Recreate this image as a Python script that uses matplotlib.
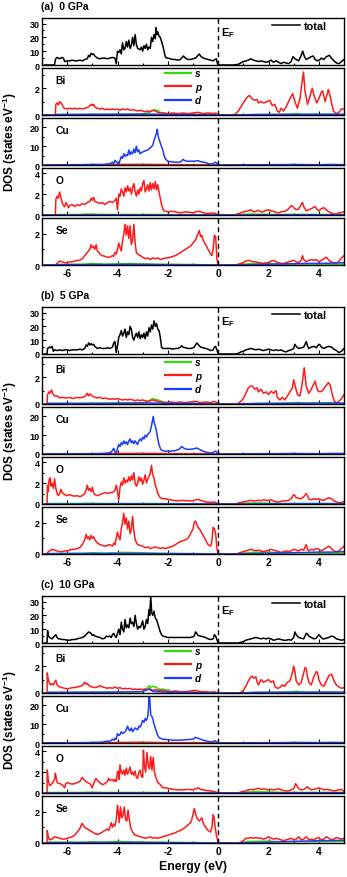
import numpy as np
import matplotlib
matplotlib.use("Agg")
import matplotlib.pyplot as plt

plt.rcParams['font.family'] = ['Liberation Sans', 'DejaVu Sans']
plt.rcParams['font.weight'] = 'bold'
plt.rcParams['mathtext.fontset'] = 'custom'
plt.rcParams['mathtext.rm'] = 'Liberation Sans:bold'
plt.rcParams['mathtext.bf'] = 'Liberation Sans:bold'
plt.rcParams['mathtext.it'] = 'Liberation Sans:bold:italic'
plt.rcParams['mathtext.default'] = 'bf'
plt.rcParams['axes.unicode_minus'] = False

# ---------------- data: (energy eV, DOS) ----------------
# ===== (a) 0 GPa =====
TOTAL_0 = [(-6.9,0),(-6.5,0),(-6.47,4),(-6.4,5.5),(-6.3,4.5),(-6.2,5.5),(-6.15,5),(-6.1,2.5),(-6.0,3),(-5.9,3),(-5.8,3.5),(-5.7,3),(-5.6,3),(-5.5,3.5),(-5.4,3),(-5.3,4),(-5.2,4.5),(-5.15,7),(-5.1,6),(-5.05,8.5),(-5.0,7.5),(-4.95,8),(-4.9,6.5),(-4.8,5),(-4.7,4.5),(-4.6,5),(-4.5,5),(-4.4,4.5),(-4.3,5),(-4.2,5.5),(-4.1,5),(-4.05,1),(-4.0,10),(-3.95,9),(-3.9,11),(-3.85,8),(-3.8,16),(-3.75,11),(-3.7,12),(-3.65,17),(-3.6,13),(-3.55,18),(-3.5,12),(-3.45,14),(-3.4,20),(-3.35,14),(-3.3,22),(-3.25,15),(-3.2,12),(-3.1,11),(-3.05,13),(-3.0,10),(-2.95,14),(-2.9,12),(-2.85,15),(-2.8,11),(-2.75,13),(-2.7,12),(-2.65,20),(-2.6,17),(-2.55,22),(-2.5,19),(-2.47,27),(-2.44,22),(-2.4,24),(-2.35,21),(-2.3,20),(-2.25,17),(-2.2,14),(-2.15,10),(-2.1,6),(-2.05,5),(-2.0,5),(-1.9,4.5),(-1.8,4),(-1.7,4),(-1.6,3.5),(-1.5,4),(-1.45,5),(-1.38,6.5),(-1.3,5),(-1.2,4),(-1.1,4),(-1.0,4.5),(-0.9,5),(-0.8,7),(-0.75,8),(-0.7,6.5),(-0.6,5),(-0.5,4.5),(-0.4,4),(-0.3,3.5),(-0.2,3),(-0.12,4),(-0.07,4.5),(-0.03,1),(0.0,0),(0.6,0),(0.8,0.5),(0.9,1.5),(1.0,2.5),(1.1,3),(1.2,3.5),(1.3,4.5),(1.4,3.5),(1.5,3),(1.6,2.5),(1.7,3),(1.8,2.5),(1.9,2),(2.0,2.5),(2.1,3.5),(2.2,2),(2.3,3),(2.4,2),(2.5,1),(2.6,2),(2.7,1.5),(2.8,1),(2.9,2.5),(2.97,6),(3.05,4.5),(3.1,4),(3.2,3),(3.3,7),(3.36,10),(3.43,6),(3.5,4),(3.6,5),(3.7,6),(3.78,6.5),(3.85,4),(3.95,3),(4.05,4),(4.1,5),(4.2,4),(4.3,6),(4.42,7),(4.5,5),(4.6,3),(4.7,1.5),(4.8,1),(4.9,2.5),(5.0,4)]
BI_P_0 = [(-6.9,0),(-6.47,0),(-6.45,0.8),(-6.4,0.9),(-6.35,0.75),(-6.3,1.0),(-6.25,0.9),(-6.2,0.8),(-6.15,0.55),(-6.1,0.5),(-6.0,0.45),(-5.9,0.5),(-5.8,0.45),(-5.7,0.5),(-5.6,0.45),(-5.5,0.5),(-5.4,0.45),(-5.3,0.5),(-5.2,0.55),(-5.1,0.7),(-5.05,0.8),(-5.0,0.7),(-4.95,0.8),(-4.9,0.6),(-4.8,0.5),(-4.7,0.45),(-4.6,0.5),(-4.5,0.4),(-4.4,0.45),(-4.3,0.4),(-4.2,0.45),(-4.1,0.4),(-4.0,0.45),(-3.9,0.35),(-3.8,0.45),(-3.7,0.4),(-3.6,0.45),(-3.5,0.35),(-3.4,0.4),(-3.3,0.35),(-3.2,0.3),(-3.1,0.35),(-3.0,0.3),(-2.9,0.25),(-2.8,0.3),(-2.7,0.25),(-2.6,0.35),(-2.5,0.3),(-2.4,0.2),(-2.3,0.15),(-2.2,0.15),(-2.0,0.1),(-1.8,0.15),(-1.6,0.1),(-1.4,0.15),(-1.2,0.1),(-1.0,0.15),(-0.8,0.2),(-0.6,0.1),(-0.4,0.15),(-0.2,0.1),(-0.1,0.15),(0.0,0),(0.6,0),(0.7,0.1),(0.8,0.3),(0.9,0.6),(1.0,0.9),(1.1,1.2),(1.2,1.4),(1.25,1.45),(1.35,1.2),(1.45,1.1),(1.55,1.15),(1.6,0.9),(1.7,1.0),(1.8,0.9),(1.9,0.95),(2.05,1.1),(2.15,0.7),(2.25,0.8),(2.35,0.3),(2.43,0.2),(2.5,0.5),(2.6,0.3),(2.7,0.6),(2.8,1.0),(2.88,1.3),(2.96,1.6),(3.05,1.0),(3.15,0.5),(3.25,1.2),(3.33,2.4),(3.39,3.2),(3.45,1.8),(3.55,0.8),(3.65,1.4),(3.74,2.0),(3.8,1.5),(3.92,0.9),(4.02,1.3),(4.1,1.7),(4.15,1.8),(4.25,1.0),(4.32,1.5),(4.38,1.9),(4.45,1.4),(4.52,0.8),(4.58,0.3),(4.7,0.1),(4.8,0.2),(4.9,0.45),(5.0,0.45)]
BI_S_0 = [(-6.9,0),(-6.47,0),(-6.4,0.03),(-5.5,0.03),(-5.0,0.05),(-4.5,0.04),(-4.0,0.06),(-3.5,0.05),(-3.0,0.1),(-2.8,0.15),(-2.7,0.25),(-2.6,0.35),(-2.5,0.4),(-2.45,0.3),(-2.4,0.35),(-2.3,0.2),(-2.2,0.15),(-2.0,0.1),(-1.5,0.05),(-1.0,0.05),(-0.5,0.04),(0.0,0),(0.8,0),(1.5,0.03),(2.5,0.05),(3.0,0.08),(3.1,0.12),(3.3,0.05),(4.0,0.04),(5.0,0.03)]
BI_D_0 = [(-6.9,0),(-6.47,0),(-6.4,0.04),(-5.0,0.05),(-4.0,0.05),(-3.0,0.07),(-2.5,0.06),(-2.0,0.04),(-1.0,0.03),(0.0,0),(0.8,0),(1.5,0.04),(2.5,0.04),(3.5,0.05),(4.5,0.06),(5.0,0.05)]
CU_D_0 = [(-6.9,0),(-6.47,0),(-6.4,0.1),(-5.5,0.15),(-5.0,0.3),(-4.6,0.3),(-4.4,0.5),(-4.25,0.9),(-4.2,1.5),(-4.15,0.5),(-4.1,2.5),(-4.0,1.0),(-3.95,0.5),(-3.9,2.5),(-3.85,4.5),(-3.8,3.5),(-3.75,6),(-3.7,4.5),(-3.65,5.5),(-3.6,5),(-3.55,8),(-3.5,5.5),(-3.45,7),(-3.4,6),(-3.35,8.5),(-3.3,6.5),(-3.25,10),(-3.2,7),(-3.15,8),(-3.1,6),(-3.0,7),(-2.9,7.5),(-2.8,8),(-2.7,9),(-2.6,10.5),(-2.55,13),(-2.5,15),(-2.45,17),(-2.42,19),(-2.38,15),(-2.33,13),(-2.28,11),(-2.2,8),(-2.15,5),(-2.08,3),(-2.0,2),(-1.9,1.8),(-1.7,1.5),(-1.5,1.5),(-1.4,3),(-1.35,2.5),(-1.25,2),(-1.1,2),(-0.95,2),(-0.8,2.3),(-0.7,1.8),(-0.6,1.5),(-0.5,1.3),(-0.4,0.8),(-0.3,0.5),(-0.2,0.6),(-0.12,1.5),(-0.07,1.2),(0.0,0),(0.7,0),(0.8,0.1),(1.5,0.15),(2.5,0.2),(3.0,0.3),(3.5,0.2),(4.0,0.15),(4.5,0.3),(5.0,0.2)]
CU_P_0 = [(-6.9,0),(-6.47,0),(-6.4,0.05),(-4.5,0.1),(-4.0,0.3),(-3.0,0.35),(-2.5,0.3),(-2.0,0.2),(-1.0,0.15),(-0.3,0.1),(0.0,0),(0.8,0),(5.0,0.05)]
CU_S_0 = [(-6.9,0),(-6.47,0),(-4.0,0.05),(-2.5,0.1),(0.0,0),(0.8,0),(3.0,0.1),(4.5,0.15),(5.0,0.1)]
O_P_0 = [(-6.9,0),(-6.47,0),(-6.45,1.5),(-6.4,1.8),(-6.35,1.6),(-6.3,2.2),(-6.25,1.7),(-6.2,1.2),(-6.15,0.9),(-6.1,0.8),(-6.05,1.2),(-6.0,1.0),(-5.95,0.7),(-5.9,0.9),(-5.8,1.0),(-5.7,0.8),(-5.6,1.0),(-5.5,0.9),(-5.4,1.1),(-5.3,1.0),(-5.2,1.2),(-5.1,1.3),(-5.05,1.6),(-5.0,1.4),(-4.95,1.7),(-4.9,1.3),(-4.8,1.2),(-4.7,1.1),(-4.6,1.2),(-4.5,1.0),(-4.4,1.2),(-4.3,1.3),(-4.2,1.2),(-4.1,1.4),(-4.05,1.6),(-4.0,0.5),(-3.95,2.0),(-3.9,1.8),(-3.85,2.5),(-3.8,2.2),(-3.75,1.8),(-3.7,2.6),(-3.65,2.2),(-3.6,2.8),(-3.55,2.3),(-3.5,2.6),(-3.45,2.0),(-3.4,2.6),(-3.35,3.0),(-3.3,2.2),(-3.25,1.8),(-3.2,2.4),(-3.15,2.0),(-3.1,2.6),(-3.05,2.3),(-3.0,3.0),(-2.95,3.3),(-2.9,2.2),(-2.85,2.5),(-2.8,2.9),(-2.75,2.3),(-2.7,3.1),(-2.65,2.4),(-2.6,3.0),(-2.55,2.5),(-2.5,3.2),(-2.45,2.4),(-2.4,2.9),(-2.35,2.2),(-2.3,1.6),(-2.25,1.0),(-2.2,0.6),(-2.15,0.4),(-2.0,0.3),(-1.9,0.35),(-1.8,0.35),(-1.7,0.3),(-1.5,0.2),(-1.3,0.3),(-1.1,0.25),(-1.0,0.2),(-0.9,0.3),(-0.8,0.35),(-0.7,0.3),(-0.5,0.15),(-0.3,0.15),(-0.2,0.2),(-0.1,0.15),(0.0,0),(0.7,0),(0.75,0.1),(0.9,0.2),(1.0,0.3),(1.1,0.35),(1.2,0.4),(1.3,0.5),(1.4,0.3),(1.5,0.35),(1.6,0.45),(1.7,0.3),(1.8,0.3),(1.9,0.45),(2.0,0.5),(2.1,0.4),(2.2,0.35),(2.3,0.25),(2.4,0.2),(2.5,0.3),(2.6,0.35),(2.7,0.4),(2.8,0.6),(2.9,0.9),(2.95,0.85),(3.0,0.7),(3.1,0.5),(3.2,0.6),(3.3,1.0),(3.35,1.2),(3.4,0.8),(3.5,0.4),(3.6,0.5),(3.7,0.6),(3.8,0.75),(3.85,0.8),(3.95,0.5),(4.0,0.4),(4.1,0.6),(4.2,0.7),(4.3,0.5),(4.4,0.3),(4.5,0.2),(4.6,0.1),(4.7,0.1),(4.8,0.2),(4.9,0.25),(5.0,0.3)]
O_S_0 = [(-6.9,0),(-6.47,0),(-6.4,0.05),(-5.5,0.05),(-5.2,0.1),(-4.5,0.05),(-3.5,0.05),(-2.5,0.05),(0.0,0),(0.8,0),(1.2,0.1),(1.5,0.08),(2.5,0.05),(3.5,0.05),(5.0,0.05)]
O_D_0 = [(-6.9,0),(-6.47,0),(-4.0,0.02),(0.0,0),(0.8,0),(3.0,0.03),(5.0,0.03)]
SE_P_0 = [(-6.9,0),(-6.47,0),(-6.4,0.1),(-6.3,0.25),(-6.2,0.2),(-6.1,0.15),(-6.0,0.15),(-5.9,0.2),(-5.8,0.2),(-5.7,0.25),(-5.6,0.3),(-5.5,0.3),(-5.4,0.4),(-5.3,0.6),(-5.2,0.8),(-5.1,1.0),(-5.05,1.3),(-5.0,1.1),(-4.95,1.2),(-4.9,1.0),(-4.85,1.3),(-4.8,0.9),(-4.7,0.7),(-4.6,0.6),(-4.5,0.55),(-4.4,0.5),(-4.3,0.5),(-4.2,0.6),(-4.15,0.55),(-4.1,0.8),(-4.05,0.7),(-4.0,1.0),(-3.95,1.4),(-3.9,1.1),(-3.85,0.9),(-3.8,1.5),(-3.75,2.0),(-3.7,2.6),(-3.65,1.9),(-3.6,2.5),(-3.55,1.7),(-3.5,2.5),(-3.45,1.3),(-3.4,1.6),(-3.35,2.6),(-3.3,1.4),(-3.25,0.8),(-3.2,0.7),(-3.1,0.6),(-3.0,0.5),(-2.9,0.4),(-2.8,0.45),(-2.7,0.35),(-2.6,0.45),(-2.5,0.4),(-2.4,0.45),(-2.3,0.35),(-2.2,0.4),(-2.1,0.45),(-2.0,0.45),(-1.9,0.5),(-1.8,0.55),(-1.7,0.6),(-1.6,0.7),(-1.5,0.8),(-1.4,0.9),(-1.3,1.0),(-1.2,1.1),(-1.1,1.2),(-1.0,1.4),(-0.9,1.6),(-0.85,1.8),(-0.8,2.0),(-0.75,2.2),(-0.7,1.8),(-0.65,1.9),(-0.6,1.6),(-0.5,1.3),(-0.4,1.0),(-0.3,0.7),(-0.25,0.6),(-0.2,1.0),(-0.15,1.9),(-0.1,1.8),(-0.05,0.4),(0.0,0),(0.7,0),(0.8,0.05),(0.9,0.1),(1.0,0.15),(1.1,0.25),(1.2,0.3),(1.3,0.25),(1.4,0.2),(1.5,0.2),(1.6,0.15),(1.8,0.1),(1.9,0.15),(2.0,0.15),(2.1,0.25),(2.2,0.3),(2.3,0.2),(2.4,0.15),(2.5,0.1),(2.6,0.1),(2.7,0.15),(2.8,0.2),(2.9,0.25),(3.0,0.3),(3.1,0.2),(3.2,0.15),(3.3,0.3),(3.35,0.6),(3.4,0.35),(3.5,0.2),(3.6,0.3),(3.7,0.35),(3.8,0.3),(3.9,0.35),(4.0,0.2),(4.1,0.3),(4.2,0.4),(4.3,0.5),(4.4,0.3),(4.5,0.2),(4.6,0.15),(4.7,0.1),(4.8,0.25),(4.9,0.45),(5.0,0.6)]
SE_S_0 = [(-6.9,0),(-6.47,0),(-6.4,0.03),(-5.3,0.05),(-5.0,0.1),(-4.5,0.05),(-3.8,0.08),(-3.5,0.1),(-3.2,0.08),(-2.5,0.05),(-1.0,0.03),(0.0,0),(0.8,0),(1.2,0.08),(2.0,0.1),(2.5,0.05),(3.0,0.08),(4.0,0.05),(5.0,0.05)]
SE_D_0 = [(-6.9,0),(-6.47,0),(-6.4,0.02),(-3.5,0.04),(0.0,0),(0.8,0),(2.0,0.05),(3.0,0.08),(3.5,0.1),(4.0,0.1),(4.5,0.12),(5.0,0.15)]

# ===== (b) 5 GPa =====
TOTAL_5 = [(-6.9,0),(-6.8,0),(-6.78,4),(-6.7,5),(-6.65,4.5),(-6.6,5.5),(-6.55,2),(-6.5,3),(-6.4,2.5),(-6.3,3),(-6.2,2.5),(-6.1,3),(-6.0,3),(-5.9,2.5),(-5.8,3),(-5.7,3),(-5.6,3),(-5.5,3.5),(-5.4,3),(-5.3,4),(-5.25,6.5),(-5.2,5.5),(-5.15,8),(-5.1,6.5),(-5.05,7.5),(-5.0,6.5),(-4.95,7),(-4.9,5.5),(-4.8,4),(-4.7,4.5),(-4.6,4),(-4.5,4),(-4.4,4.5),(-4.3,4),(-4.2,5),(-4.15,8),(-4.1,9),(-4.05,1),(-4.0,6),(-3.95,12),(-3.9,14),(-3.85,17),(-3.8,13),(-3.75,15),(-3.7,18),(-3.65,12),(-3.6,16),(-3.55,14),(-3.5,20),(-3.45,18),(-3.4,12),(-3.35,10),(-3.3,13),(-3.25,15),(-3.2,12),(-3.15,16),(-3.1,11),(-3.05,14),(-3.0,12),(-2.95,15),(-2.9,11),(-2.85,16),(-2.8,13),(-2.75,19),(-2.7,16),(-2.65,21),(-2.6,18),(-2.55,24),(-2.5,20),(-2.45,22),(-2.4,18),(-2.35,17),(-2.3,12),(-2.25,5),(-2.2,4),(-2.1,4),(-2.0,4),(-1.9,4),(-1.8,3.5),(-1.7,4),(-1.6,4),(-1.5,5),(-1.45,6),(-1.4,5),(-1.3,4.5),(-1.2,4),(-1.1,4),(-1.0,4.5),(-0.95,5),(-0.9,6.5),(-0.85,8),(-0.8,7),(-0.75,6),(-0.7,5),(-0.6,4.5),(-0.5,4),(-0.4,3.5),(-0.3,2.5),(-0.2,3),(-0.15,5),(-0.1,5.5),(-0.05,3),(0.0,0),(0.7,0),(0.8,0.5),(0.9,1.5),(1.0,2),(1.1,3),(1.2,3.5),(1.3,4),(1.4,3.5),(1.5,3),(1.6,3.5),(1.7,3),(1.8,2.5),(1.9,3),(2.0,3.5),(2.1,3),(2.2,2.5),(2.3,3),(2.4,2.5),(2.5,3),(2.6,2),(2.7,1.5),(2.8,2.5),(2.9,3),(3.0,4),(3.05,7),(3.1,5.5),(3.2,4),(3.3,4.5),(3.4,5),(3.45,7),(3.5,9),(3.55,6),(3.6,4),(3.7,5),(3.8,5.5),(3.9,4.5),(4.0,7),(4.05,6.5),(4.1,5),(4.2,4),(4.3,5),(4.4,5.5),(4.5,5),(4.6,3.5),(4.7,2.5),(4.8,1),(4.9,2),(5.0,4)]
BI_P_5 = [(-6.9,0),(-6.8,0),(-6.78,0.7),(-6.72,0.9),(-6.68,0.8),(-6.62,1.05),(-6.58,0.8),(-6.5,0.6),(-6.4,0.6),(-6.3,0.45),(-6.2,0.5),(-6.1,0.45),(-6.0,0.45),(-5.9,0.5),(-5.8,0.4),(-5.7,0.45),(-5.6,0.5),(-5.5,0.45),(-5.4,0.5),(-5.3,0.55),(-5.2,0.8),(-5.15,0.6),(-5.1,0.75),(-5.0,0.6),(-4.9,0.5),(-4.8,0.45),(-4.7,0.5),(-4.6,0.4),(-4.5,0.45),(-4.4,0.4),(-4.3,0.35),(-4.2,0.4),(-4.1,0.35),(-4.0,0.4),(-3.9,0.35),(-3.8,0.3),(-3.7,0.35),(-3.6,0.3),(-3.5,0.35),(-3.4,0.3),(-3.3,0.25),(-3.2,0.3),(-3.1,0.25),(-3.0,0.3),(-2.9,0.25),(-2.8,0.2),(-2.7,0.25),(-2.6,0.3),(-2.5,0.25),(-2.4,0.2),(-2.3,0.15),(-2.1,0.1),(-1.9,0.15),(-1.7,0.1),(-1.5,0.15),(-1.3,0.1),(-1.1,0.15),(-0.9,0.2),(-0.7,0.1),(-0.5,0.15),(-0.3,0.1),(-0.15,0.2),(-0.05,0.1),(0.0,0),(0.7,0),(0.8,0.05),(0.9,0.2),(1.0,0.4),(1.1,0.8),(1.2,1.2),(1.3,1.35),(1.38,1.3),(1.45,1.1),(1.55,1.2),(1.6,0.9),(1.7,1.1),(1.8,0.8),(1.9,0.9),(2.0,0.7),(2.1,0.95),(2.2,0.8),(2.3,1.0),(2.35,0.5),(2.45,0.3),(2.55,0.5),(2.65,0.3),(2.75,0.6),(2.85,0.9),(2.95,1.2),(3.0,1.8),(3.08,1.2),(3.15,0.7),(3.25,0.6),(3.33,1.4),(3.42,2.7),(3.5,1.3),(3.6,0.8),(3.7,1.1),(3.8,1.5),(3.85,1.7),(3.95,1.0),(4.05,0.9),(4.15,1.0),(4.3,1.4),(4.38,1.6),(4.45,1.4),(4.55,0.6),(4.62,0.2),(4.7,0.1),(4.8,0.2),(4.9,0.4),(5.0,0.7)]
BI_S_5 = [(-6.9,0),(-6.8,0),(-6.75,0.03),(-5.5,0.03),(-5.0,0.05),(-4.5,0.04),(-4.0,0.06),(-3.5,0.06),(-3.0,0.1),(-2.8,0.15),(-2.7,0.3),(-2.6,0.4),(-2.5,0.35),(-2.4,0.3),(-2.3,0.25),(-2.2,0.15),(-2.0,0.1),(-1.5,0.05),(-1.0,0.05),(-0.5,0.04),(0.0,0),(0.8,0),(1.5,0.03),(2.5,0.05),(3.0,0.08),(3.2,0.12),(3.4,0.05),(4.0,0.04),(5.0,0.03)]
BI_D_5 = [(-6.9,0),(-6.8,0),(-6.75,0.05),(-5.0,0.05),(-4.0,0.06),(-3.0,0.08),(-2.5,0.07),(-2.0,0.05),(-1.0,0.03),(0.0,0),(0.8,0),(1.5,0.04),(2.5,0.05),(3.5,0.06),(4.5,0.08),(5.0,0.06)]
CU_D_5 = [(-6.9,0),(-6.8,0),(-6.75,0.1),(-5.5,0.15),(-5.0,0.2),(-4.6,0.3),(-4.4,0.5),(-4.25,1.0),(-4.15,3),(-4.1,1),(-4.05,0.5),(-4.0,3),(-3.95,5),(-3.9,4),(-3.85,6),(-3.8,5),(-3.75,7),(-3.7,5.5),(-3.65,6.5),(-3.6,5),(-3.55,7),(-3.5,8),(-3.45,6),(-3.4,7),(-3.35,5.5),(-3.3,7),(-3.25,6),(-3.2,5),(-3.15,7),(-3.1,8),(-3.05,7),(-3.0,9),(-2.95,8),(-2.9,10),(-2.85,9),(-2.8,10.5),(-2.75,11),(-2.7,12),(-2.65,15),(-2.62,17),(-2.58,20),(-2.55,17),(-2.5,15),(-2.45,12),(-2.4,8),(-2.35,5),(-2.3,3),(-2.25,2),(-2.1,1.5),(-1.9,1.5),(-1.7,1.8),(-1.55,2.5),(-1.45,4),(-1.35,3),(-1.25,2.5),(-1.1,2.5),(-0.95,2.8),(-0.85,3.2),(-0.75,2.5),(-0.6,1.5),(-0.5,1.0),(-0.4,0.8),(-0.3,0.5),(-0.2,0.8),(-0.12,1.5),(-0.07,1.2),(0.0,0),(0.7,0),(0.8,0.1),(1.5,0.15),(2.5,0.2),(3.0,0.3),(3.5,0.2),(4.0,0.15),(4.5,0.3),(5.0,0.3)]
CU_P_5 = [(-6.9,0),(-6.8,0),(-6.75,0.05),(-4.5,0.1),(-4.0,0.3),(-3.0,0.35),(-2.5,0.3),(-2.0,0.2),(-1.0,0.15),(-0.3,0.1),(0.0,0),(0.8,0),(5.0,0.05)]
CU_S_5 = [(-6.9,0),(-6.8,0),(-4.0,0.05),(-2.5,0.1),(0.0,0),(0.8,0),(2.0,0.1),(3.0,0.15),(4.5,0.15),(5.0,0.1)]
O_P_5 = [(-6.9,0),(-6.8,0),(-6.78,1.8),(-6.75,1.2),(-6.72,2.3),(-6.68,2.5),(-6.64,1.7),(-6.6,2.0),(-6.55,1.5),(-6.5,2.4),(-6.45,1.5),(-6.4,1.0),(-6.35,0.8),(-6.3,1.0),(-6.25,1.4),(-6.2,1.1),(-6.1,0.9),(-6.0,0.8),(-5.9,0.9),(-5.8,0.8),(-5.7,0.75),(-5.6,0.8),(-5.5,0.7),(-5.4,0.8),(-5.3,1.0),(-5.25,1.3),(-5.2,1.8),(-5.15,1.3),(-5.1,1.5),(-5.05,1.2),(-5.0,1.6),(-4.95,1.1),(-4.9,0.9),(-4.8,0.8),(-4.7,0.9),(-4.6,1.0),(-4.5,1.1),(-4.4,1.0),(-4.3,1.1),(-4.2,1.1),(-4.1,1.3),(-4.05,1.8),(-4.0,1.2),(-3.95,0.4),(-3.9,1.6),(-3.85,2.1),(-3.8,1.8),(-3.75,2.5),(-3.7,2.0),(-3.65,2.3),(-3.6,2.1),(-3.55,2.6),(-3.5,2.2),(-3.45,2.7),(-3.4,2.3),(-3.35,3.0),(-3.3,2.0),(-3.25,1.7),(-3.2,2.0),(-3.15,2.6),(-3.1,2.2),(-3.05,2.5),(-3.0,1.9),(-2.95,2.3),(-2.9,2.8),(-2.85,2.0),(-2.8,2.4),(-2.75,2.6),(-2.7,2.9),(-2.65,3.7),(-2.6,2.8),(-2.55,2.5),(-2.5,1.8),(-2.45,1.5),(-2.4,1.0),(-2.3,0.6),(-2.2,0.5),(-2.1,0.5),(-2.0,0.45),(-1.9,0.4),(-1.8,0.35),(-1.6,0.3),(-1.4,0.35),(-1.2,0.3),(-1.0,0.3),(-0.9,0.4),(-0.8,0.45),(-0.7,0.35),(-0.5,0.2),(-0.3,0.15),(-0.2,0.2),(-0.1,0.15),(0.0,0),(0.7,0),(0.8,0.1),(0.9,0.15),(1.0,0.2),(1.1,0.25),(1.2,0.3),(1.3,0.35),(1.4,0.3),(1.5,0.3),(1.6,0.35),(1.7,0.3),(1.8,0.4),(1.9,0.35),(2.0,0.35),(2.1,0.4),(2.2,0.3),(2.3,0.2),(2.4,0.2),(2.5,0.25),(2.6,0.3),(2.7,0.3),(2.8,0.35),(2.9,0.5),(3.0,0.9),(3.05,0.8),(3.1,0.6),(3.2,0.55),(3.3,0.5),(3.4,0.7),(3.5,1.0),(3.55,0.8),(3.6,0.5),(3.7,0.4),(3.8,0.5),(3.9,0.45),(4.0,0.5),(4.1,0.4),(4.2,0.35),(4.3,0.5),(4.4,0.6),(4.5,0.5),(4.6,0.3),(4.7,0.2),(4.8,0.1),(4.9,0.15),(5.0,0.25)]
O_S_5 = [(-6.9,0),(-6.8,0),(-6.75,0.05),(-5.5,0.05),(-5.2,0.08),(-4.5,0.05),(-3.5,0.05),(-2.5,0.05),(0.0,0),(0.8,0),(1.2,0.1),(1.5,0.1),(2.0,0.08),(2.5,0.05),(3.5,0.05),(5.0,0.05)]
O_D_5 = [(-6.9,0),(-6.8,0),(-4.0,0.02),(0.0,0),(0.8,0),(3.0,0.03),(5.0,0.03)]
SE_P_5 = [(-6.9,0),(-6.8,0),(-6.78,0.1),(-6.7,0.2),(-6.6,0.3),(-6.5,0.25),(-6.4,0.2),(-6.3,0.15),(-6.2,0.15),(-6.1,0.2),(-6.0,0.2),(-5.9,0.25),(-5.8,0.3),(-5.7,0.3),(-5.6,0.35),(-5.5,0.4),(-5.4,0.6),(-5.3,0.9),(-5.25,1.25),(-5.2,1.0),(-5.15,1.1),(-5.1,0.9),(-5.05,1.2),(-5.0,1.0),(-4.95,1.1),(-4.9,0.9),(-4.8,0.7),(-4.7,0.6),(-4.6,0.55),(-4.5,0.5),(-4.4,0.55),(-4.3,0.6),(-4.2,0.5),(-4.15,0.7),(-4.1,0.6),(-4.05,1.0),(-4.0,1.4),(-3.95,1.1),(-3.9,0.9),(-3.85,1.6),(-3.8,2.0),(-3.75,2.6),(-3.7,1.9),(-3.65,2.3),(-3.6,1.6),(-3.55,2.1),(-3.5,1.3),(-3.45,1.6),(-3.4,2.4),(-3.35,1.5),(-3.3,0.9),(-3.2,0.6),(-3.1,0.55),(-3.0,0.5),(-2.9,0.4),(-2.8,0.45),(-2.7,0.35),(-2.6,0.4),(-2.5,0.45),(-2.4,0.4),(-2.3,0.35),(-2.2,0.4),(-2.1,0.35),(-2.0,0.4),(-1.9,0.45),(-1.8,0.5),(-1.7,0.6),(-1.6,0.7),(-1.5,0.8),(-1.4,0.85),(-1.3,0.9),(-1.2,1.0),(-1.1,1.3),(-1.0,1.6),(-0.95,2.0),(-0.9,2.1),(-0.85,1.9),(-0.8,1.7),(-0.7,1.5),(-0.6,1.2),(-0.5,0.9),(-0.4,0.6),(-0.3,0.5),(-0.25,0.8),(-0.2,1.7),(-0.15,1.6),(-0.1,1.3),(-0.05,0.4),(0.0,0),(0.7,0),(0.8,0.05),(0.9,0.1),(1.0,0.15),(1.1,0.2),(1.2,0.25),(1.3,0.3),(1.4,0.25),(1.5,0.2),(1.6,0.25),(1.7,0.2),(1.8,0.15),(1.9,0.2),(2.0,0.25),(2.1,0.3),(2.2,0.25),(2.3,0.2),(2.4,0.15),(2.5,0.1),(2.6,0.15),(2.7,0.2),(2.8,0.15),(2.9,0.2),(3.0,0.3),(3.1,0.25),(3.2,0.2),(3.3,0.3),(3.4,0.25),(3.5,0.6),(3.55,0.3),(3.6,0.2),(3.7,0.3),(3.8,0.25),(3.9,0.35),(4.0,0.3),(4.1,0.2),(4.2,0.3),(4.3,0.4),(4.4,0.5),(4.5,0.35),(4.6,0.2),(4.7,0.15),(4.8,0.2),(4.9,0.35),(5.0,0.5)]
SE_S_5 = [(-6.9,0),(-6.8,0),(-6.75,0.03),(-5.3,0.05),(-5.0,0.08),(-4.5,0.05),(-3.8,0.1),(-3.5,0.1),(-3.2,0.08),(-2.5,0.05),(-1.0,0.03),(0.0,0),(0.8,0),(1.2,0.1),(2.0,0.12),(2.5,0.05),(3.0,0.08),(4.0,0.05),(5.0,0.05)]
SE_D_5 = [(-6.9,0),(-6.8,0),(-6.75,0.02),(-3.5,0.04),(0.0,0),(0.8,0),(2.0,0.05),(3.0,0.08),(3.5,0.1),(4.0,0.12),(4.5,0.12),(5.0,0.15)]

# ===== (c) 10 GPa =====
TOTAL_10 = [(-6.9,0),(-6.8,0),(-6.78,9),(-6.74,5),(-6.7,4),(-6.65,3.5),(-6.6,3),(-6.55,4),(-6.5,5),(-6.45,6),(-6.4,4),(-6.35,3),(-6.3,3),(-6.2,2.5),(-6.1,2.5),(-6.0,2),(-5.9,2),(-5.8,2.5),(-5.7,2.5),(-5.6,3),(-5.5,3.5),(-5.4,4),(-5.3,5),(-5.25,6),(-5.2,7),(-5.15,8),(-5.1,7.5),(-5.05,7),(-5.0,5.5),(-4.95,6),(-4.9,5),(-4.8,4.5),(-4.7,4),(-4.6,3),(-4.5,3.5),(-4.45,5),(-4.4,4.5),(-4.3,5),(-4.25,4),(-4.2,6),(-4.15,7),(-4.1,5),(-4.05,4),(-4.0,7),(-3.95,10),(-3.9,6),(-3.85,15),(-3.8,10),(-3.75,8),(-3.7,17),(-3.65,11),(-3.6,13),(-3.55,11),(-3.5,18),(-3.45,14),(-3.4,15),(-3.35,12),(-3.3,20),(-3.25,14),(-3.2,10),(-3.15,12),(-3.1,11),(-3.05,13),(-3.0,16),(-2.95,10),(-2.9,12),(-2.85,17),(-2.8,14),(-2.75,24),(-2.72,20),(-2.68,34),(-2.64,22),(-2.6,20),(-2.55,23),(-2.5,18),(-2.45,17),(-2.4,14),(-2.35,11),(-2.3,8),(-2.25,6),(-2.2,5),(-2.1,4.5),(-2.0,4),(-1.9,4),(-1.8,4),(-1.7,4),(-1.6,4),(-1.5,4),(-1.4,4),(-1.3,4),(-1.2,4),(-1.1,4),(-1.0,4.5),(-0.95,5),(-0.9,8),(-0.85,7),(-0.8,5.5),(-0.7,5),(-0.6,4.5),(-0.5,4),(-0.4,3),(-0.3,2.5),(-0.2,3),(-0.15,6),(-0.1,5),(-0.05,2.5),(0.0,0),(0.8,0),(0.9,0.5),(1.0,1),(1.1,2),(1.2,2.5),(1.3,3),(1.4,3.5),(1.5,4),(1.6,3.5),(1.7,3),(1.8,3.5),(1.9,3),(2.0,3.5),(2.1,3),(2.2,2),(2.3,2.5),(2.4,3),(2.5,2.5),(2.6,2),(2.7,2),(2.8,2.5),(2.9,2),(3.0,4),(3.05,8),(3.1,6),(3.2,4),(3.3,3.5),(3.4,3),(3.45,5),(3.5,7),(3.55,6.5),(3.6,5),(3.7,4),(3.8,3),(3.9,3.5),(4.0,6),(4.05,5),(4.15,3),(4.2,3),(4.3,3.5),(4.4,4),(4.5,5),(4.6,4.5),(4.7,3),(4.8,2.5),(4.9,2),(5.0,2.5)]
BI_P_10 = [(-6.9,0),(-6.8,0),(-6.79,1.5),(-6.75,1.0),(-6.7,0.7),(-6.65,0.6),(-6.6,0.7),(-6.55,0.6),(-6.5,0.8),(-6.45,0.95),(-6.4,0.6),(-6.3,0.45),(-6.2,0.4),(-6.1,0.35),(-6.0,0.3),(-5.9,0.35),(-5.8,0.4),(-5.7,0.4),(-5.6,0.45),(-5.5,0.5),(-5.4,0.55),(-5.35,0.7),(-5.3,0.8),(-5.25,0.65),(-5.2,0.7),(-5.1,0.5),(-5.0,0.45),(-4.9,0.4),(-4.8,0.45),(-4.7,0.55),(-4.6,0.45),(-4.5,0.4),(-4.4,0.35),(-4.3,0.4),(-4.2,0.35),(-4.1,0.45),(-4.0,0.35),(-3.9,0.4),(-3.8,0.3),(-3.7,0.35),(-3.6,0.3),(-3.5,0.35),(-3.4,0.25),(-3.3,0.3),(-3.2,0.25),(-3.1,0.3),(-3.0,0.25),(-2.9,0.3),(-2.8,0.25),(-2.7,0.3),(-2.6,0.2),(-2.5,0.25),(-2.4,0.2),(-2.3,0.2),(-2.1,0.15),(-1.9,0.1),(-1.7,0.15),(-1.5,0.1),(-1.3,0.1),(-1.1,0.15),(-0.9,0.2),(-0.7,0.1),(-0.5,0.1),(-0.3,0.05),(-0.15,0.1),(0.0,0),(0.8,0),(0.9,0.05),(1.0,0.2),(1.1,0.5),(1.2,0.9),(1.3,1.2),(1.35,1.25),(1.4,1.1),(1.5,1.2),(1.55,0.8),(1.6,0.6),(1.7,1.0),(1.8,0.8),(1.9,0.9),(2.0,1.0),(2.1,0.8),(2.2,0.9),(2.25,0.5),(2.35,0.35),(2.45,0.4),(2.55,0.6),(2.65,0.5),(2.75,0.8),(2.85,0.9),(2.95,1.5),(3.0,2.0),(3.05,1.6),(3.1,0.9),(3.2,0.6),(3.3,0.8),(3.4,1.5),(3.45,1.9),(3.5,1.8),(3.55,1.2),(3.6,0.8),(3.7,0.6),(3.8,1.2),(3.9,1.6),(3.95,1.5),(4.0,1.0),(4.1,0.6),(4.2,0.5),(4.3,0.9),(4.4,1.3),(4.5,1.4),(4.55,1.2),(4.6,0.9),(4.7,0.6),(4.8,0.45),(4.9,0.35),(5.0,0.4)]
BI_S_10 = [(-6.9,0),(-6.8,0),(-6.75,0.03),(-5.5,0.04),(-5.0,0.05),(-4.5,0.05),(-4.0,0.06),(-3.5,0.07),(-3.0,0.12),(-2.85,0.3),(-2.75,0.55),(-2.7,0.4),(-2.6,0.5),(-2.5,0.45),(-2.4,0.35),(-2.3,0.25),(-2.2,0.3),(-2.1,0.25),(-2.0,0.2),(-1.9,0.12),(-1.5,0.06),(-1.0,0.05),(-0.5,0.04),(0.0,0),(0.8,0),(1.5,0.04),(2.5,0.06),(3.0,0.1),(3.1,0.14),(3.3,0.06),(4.0,0.05),(5.0,0.04)]
BI_D_10 = [(-6.9,0),(-6.8,0),(-6.75,0.05),(-5.0,0.06),(-4.0,0.07),(-3.0,0.1),(-2.75,0.3),(-2.6,0.12),(-2.0,0.06),(-1.0,0.04),(0.0,0),(0.8,0),(1.5,0.05),(2.5,0.05),(3.5,0.06),(4.5,0.07),(5.0,0.06)]
CU_D_10 = [(-6.9,0),(-6.8,0),(-6.78,0.1),(-6.0,0.15),(-5.5,0.2),(-5.0,0.3),(-4.8,0.4),(-4.6,0.5),(-4.5,0.8),(-4.4,1.0),(-4.3,0.8),(-4.2,2),(-4.15,1.5),(-4.1,2.5),(-4.05,2),(-4.0,5),(-3.95,4),(-3.9,4.5),(-3.85,6),(-3.8,5),(-3.75,5.5),(-3.7,6),(-3.65,7),(-3.6,9),(-3.55,7),(-3.5,6.5),(-3.45,8),(-3.4,6),(-3.35,7),(-3.3,8),(-3.25,7.5),(-3.2,7),(-3.15,9),(-3.1,8.5),(-3.05,10),(-3.0,12),(-2.95,11),(-2.9,13),(-2.85,12),(-2.8,14),(-2.77,18),(-2.74,28),(-2.71,22),(-2.68,15),(-2.63,14),(-2.58,12),(-2.55,10),(-2.5,8),(-2.45,6),(-2.4,4),(-2.35,3),(-2.3,2.5),(-2.2,2),(-2.0,1.8),(-1.8,1.5),(-1.6,1.5),(-1.4,1.6),(-1.2,1.8),(-1.0,2),(-0.9,3),(-0.8,2.5),(-0.7,2),(-0.6,1.5),(-0.5,1.2),(-0.4,0.8),(-0.3,0.6),(-0.2,0.8),(-0.15,1.2),(-0.1,1.0),(0.0,0),(0.8,0),(0.9,0.1),(1.5,0.15),(2.5,0.2),(3.0,0.3),(3.5,0.25),(4.0,0.2),(4.5,0.3),(5.0,0.25)]
CU_P_10 = [(-6.9,0),(-6.8,0),(-6.75,0.05),(-4.5,0.1),(-4.0,0.3),(-3.0,0.4),(-2.5,0.3),(-2.0,0.2),(-1.0,0.15),(-0.3,0.1),(0.0,0),(0.8,0),(5.0,0.05)]
CU_S_10 = [(-6.9,0),(-6.8,0),(-4.0,0.05),(-2.5,0.1),(0.0,0),(0.8,0),(2.0,0.1),(3.0,0.15),(4.5,0.2),(5.0,0.1)]
O_P_10 = [(-6.9,0),(-6.8,0),(-6.79,2.2),(-6.75,1.2),(-6.7,0.7),(-6.65,0.8),(-6.6,0.9),(-6.55,1.1),(-6.5,1.3),(-6.47,1.9),(-6.43,1.4),(-6.4,1.0),(-6.3,0.9),(-6.2,0.8),(-6.1,0.5),(-6.05,0.9),(-6.0,1.0),(-5.9,0.9),(-5.8,0.85),(-5.7,0.9),(-5.6,1.0),(-5.5,1.1),(-5.45,1.3),(-5.4,1.5),(-5.35,1.3),(-5.3,1.2),(-5.2,1.0),(-5.1,0.9),(-5.05,0.7),(-5.0,0.5),(-4.95,0.9),(-4.9,1.2),(-4.85,1.4),(-4.8,1.2),(-4.7,1.0),(-4.6,0.8),(-4.5,0.9),(-4.4,1.1),(-4.35,1.4),(-4.3,1.2),(-4.2,1.3),(-4.15,1.1),(-4.1,1.3),(-4.05,1.1),(-4.0,2.0),(-3.97,2.1),(-3.93,1.3),(-3.9,2.7),(-3.85,2.0),(-3.8,1.8),(-3.75,2.2),(-3.7,1.7),(-3.65,2.4),(-3.6,1.8),(-3.55,2.1),(-3.5,2.5),(-3.45,1.8),(-3.4,2.0),(-3.35,1.7),(-3.3,2.1),(-3.25,1.5),(-3.2,1.4),(-3.15,2.0),(-3.1,2.2),(-3.05,1.6),(-3.0,1.5),(-2.97,4.1),(-2.93,2.6),(-2.88,2.0),(-2.83,3.9),(-2.78,2.6),(-2.73,2.3),(-2.68,3.5),(-2.63,2.2),(-2.58,3.4),(-2.53,2.0),(-2.48,1.5),(-2.4,1.0),(-2.3,0.8),(-2.2,0.5),(-2.1,0.5),(-2.0,0.45),(-1.9,0.4),(-1.8,0.35),(-1.6,0.3),(-1.4,0.3),(-1.2,0.35),(-1.0,0.3),(-0.9,0.4),(-0.8,0.5),(-0.7,0.35),(-0.5,0.25),(-0.3,0.2),(-0.2,0.15),(-0.1,0.1),(0.0,0),(0.8,0),(0.9,0.1),(1.0,0.15),(1.1,0.2),(1.2,0.3),(1.3,0.35),(1.4,0.3),(1.5,0.4),(1.6,0.45),(1.7,0.35),(1.8,0.4),(1.9,0.35),(2.0,0.3),(2.1,0.35),(2.2,0.3),(2.3,0.35),(2.4,0.4),(2.5,0.3),(2.6,0.25),(2.7,0.2),(2.8,0.2),(2.9,0.3),(3.0,0.4),(3.08,0.9),(3.15,0.6),(3.2,0.4),(3.3,0.3),(3.4,0.35),(3.5,0.5),(3.55,0.6),(3.6,0.45),(3.7,0.3),(3.8,0.35),(3.9,0.4),(4.0,0.5),(4.1,0.4),(4.2,0.3),(4.3,0.35),(4.4,0.3),(4.5,0.25),(4.6,0.2),(4.7,0.25),(4.8,0.3),(4.9,0.35),(5.0,0.15)]
O_S_10 = [(-6.9,0),(-6.8,0),(-6.75,0.05),(-5.5,0.05),(-5.2,0.08),(-4.5,0.05),(-3.5,0.05),(-2.5,0.05),(0.0,0),(0.8,0),(1.2,0.1),(1.5,0.15),(2.0,0.1),(2.5,0.06),(3.5,0.05),(5.0,0.05)]
O_D_10 = [(-6.9,0),(-6.8,0),(-4.0,0.02),(0.0,0),(0.8,0),(3.0,0.03),(5.0,0.03)]
SE_P_10 = [(-6.9,0),(-6.8,0),(-6.79,0.8),(-6.75,0.4),(-6.7,0.2),(-6.6,0.25),(-6.5,0.4),(-6.4,0.35),(-6.3,0.3),(-6.2,0.25),(-6.1,0.25),(-6.0,0.3),(-5.9,0.35),(-5.8,0.4),(-5.7,0.5),(-5.6,0.7),(-5.5,0.9),(-5.45,1.1),(-5.4,1.25),(-5.35,1.1),(-5.3,1.0),(-5.2,0.9),(-5.1,0.8),(-5.0,0.7),(-4.9,0.6),(-4.8,0.55),(-4.7,0.6),(-4.6,0.7),(-4.5,0.8),(-4.4,0.9),(-4.35,0.8),(-4.3,1.0),(-4.25,1.3),(-4.2,1.0),(-4.15,1.2),(-4.1,1.1),(-4.05,1.5),(-4.0,2.4),(-3.97,2.0),(-3.93,1.3),(-3.88,2.3),(-3.83,1.6),(-3.78,1.8),(-3.73,2.3),(-3.68,1.5),(-3.63,1.4),(-3.58,2.1),(-3.53,1.5),(-3.48,1.0),(-3.4,0.7),(-3.3,0.5),(-3.2,0.45),(-3.1,0.4),(-3.0,0.35),(-2.9,0.3),(-2.8,0.35),(-2.7,0.4),(-2.6,0.3),(-2.5,0.35),(-2.4,0.3),(-2.3,0.35),(-2.2,0.4),(-2.1,0.45),(-2.0,0.5),(-1.9,0.55),(-1.8,0.6),(-1.7,0.65),(-1.6,0.75),(-1.5,0.8),(-1.4,0.9),(-1.3,1.0),(-1.2,1.15),(-1.1,1.3),(-1.05,1.5),(-1.0,1.8),(-0.95,2.2),(-0.9,1.9),(-0.85,1.6),(-0.8,1.5),(-0.75,1.4),(-0.7,1.5),(-0.65,1.6),(-0.6,1.3),(-0.5,1.0),(-0.4,0.8),(-0.3,0.7),(-0.25,1.0),(-0.2,1.8),(-0.17,1.7),(-0.12,1.0),(-0.07,0.5),(0.0,0),(0.8,0),(0.9,0.05),(1.0,0.15),(1.1,0.3),(1.2,0.3),(1.3,0.35),(1.4,0.3),(1.5,0.35),(1.6,0.3),(1.7,0.3),(1.8,0.25),(1.9,0.3),(2.0,0.4),(2.1,0.3),(2.2,0.25),(2.3,0.3),(2.4,0.25),(2.5,0.2),(2.6,0.15),(2.7,0.2),(2.8,0.25),(2.9,0.3),(3.0,0.2),(3.1,0.25),(3.2,0.4),(3.3,0.2),(3.4,0.25),(3.5,0.4),(3.6,0.2),(3.7,0.25),(3.8,0.2),(3.9,0.3),(4.0,0.35),(4.1,0.2),(4.2,0.25),(4.3,0.4),(4.4,0.3),(4.5,0.2),(4.6,0.25),(4.7,0.35),(4.8,0.3),(4.9,0.25),(5.0,0.3)]
SE_S_10 = [(-6.9,0),(-6.8,0),(-6.75,0.05),(-5.3,0.05),(-5.0,0.08),(-4.5,0.05),(-4.0,0.1),(-3.6,0.08),(-3.2,0.06),(-2.5,0.05),(-1.0,0.03),(0.0,0),(0.8,0),(1.2,0.1),(2.0,0.12),(2.5,0.08),(3.0,0.1),(4.0,0.08),(5.0,0.1)]
SE_D_10 = [(-6.9,0),(-6.8,0),(-6.75,0.02),(-3.5,0.04),(0.0,0),(0.8,0),(2.0,0.05),(3.0,0.1),(3.5,0.12),(4.0,0.15),(4.5,0.15),(5.0,0.18)]

GROUP_TITLES = ["(a)  0 GPa", "(b)  5 GPa", "(c)  10 GPa"]
ELEMENTS = ["Bi", "Cu", "O", "Se"]
ORBITALS = ["s", "p", "d"]

GROUPS = [
    dict(total=TOTAL_0, Bi=(BI_S_0, BI_P_0, BI_D_0), Cu=(CU_S_0, CU_P_0, CU_D_0),
         O=(O_S_0, O_P_0, O_D_0), Se=(SE_S_0, SE_P_0, SE_D_0)),
    dict(total=TOTAL_5, Bi=(BI_S_5, BI_P_5, BI_D_5), Cu=(CU_S_5, CU_P_5, CU_D_5),
         O=(O_S_5, O_P_5, O_D_5), Se=(SE_S_5, SE_P_5, SE_D_5)),
    dict(total=TOTAL_10, Bi=(BI_S_10, BI_P_10, BI_D_10), Cu=(CU_S_10, CU_P_10, CU_D_10),
         O=(O_S_10, O_P_10, O_D_10), Se=(SE_S_10, SE_P_10, SE_D_10)),
]

# ---------------- style / layout ----------------
W, H = 347, 878
COLORS = {"s": "#33dd00", "p": "#ff1a1a", "d": "#1a3cff"}
PANEL_Y = {  # ylim, major, minor
    "total": ((0, 34), [0, 10, 20, 30], [5, 15, 25]),
    "Bi": ((0, 3.5), [0, 2], [1, 3]),
    "Cu": ((0, 25), [0, 10, 20], [5, 15]),
    "O": ((0, 4.5), [0, 2, 4], [1, 3]),
    "Se": ((0, 3.0), [0, 2], [1]),
}
GROUP_TOP = [19, 308, 597]
PITCH, PH = 50, 47
LEFT, RIGHT = 42, 344

fig = plt.figure(figsize=(W / 100, H / 100), dpi=100)

def px_axes(top, height):
    return fig.add_axes([LEFT / W, 1 - (top + height) / H, (RIGHT - LEFT) / W, height / H])

def unzip(pts):
    a = np.array(pts, dtype=float)
    return a[:, 0], a[:, 1]

for g, data in enumerate(GROUPS):
    top0 = GROUP_TOP[g]
    names = ["total"] + ELEMENTS
    for k, name in enumerate(names):
        ax = px_axes(top0 + k * PITCH, PH)
        if name == "total":
            e, d = unzip(data["total"])
            ax.plot(e, d, color="k", lw=1.1, label="total")
            ax.legend(loc="upper left", bbox_to_anchor=(0.755, 0.98), frameon=False,
                      fontsize=7.8, handlelength=2.6, handletextpad=0.3,
                      borderaxespad=0.0, borderpad=0.2)
            ax.text(0.12, 0.70, "E$_{F}$", transform=ax.get_xaxis_transform(),
                    fontsize=8, va="center", ha="left")
        else:
            lines = []
            for orb, pts in zip(ORBITALS, data[name]):
                e, d = unzip(pts)
                ln, = ax.plot(e, d, color=COLORS[orb], lw=1.1, label=orb)
                lines.append(ln)
            if name == "Bi":
                ax.legend(handles=lines, loc="upper left", bbox_to_anchor=(0.40, 1.04),
                          frameon=False, prop=dict(size=7.2, style="italic", weight="bold"),
                          handlelength=2.6, handletextpad=0.4, labelspacing=0.35,
                          borderaxespad=0.0, borderpad=0.2)
                for lh in ax.get_legend().get_lines():
                    lh.set_linewidth(1.6)
            ax.text(0.045, 0.74, name, transform=ax.transAxes, fontsize=7.4,
                    va="center", ha="left")
        ax.axvline(0, color="k", lw=1.0, dashes=(3.5, 2.5))
        ylim, maj, mnr = PANEL_Y[name]
        ax.set_ylim(*ylim)
        ax.set_yticks(maj)
        ax.set_yticks(mnr, minor=True)
        ax.set_xlim(-7, 5)
        ax.set_xticks([-6, -4, -2, 0, 2, 4])
        ax.set_xticks([-7, -5, -3, -1, 1, 3, 5], minor=True)
        ax.tick_params(which="both", direction="in", top=False, right=False,
                       labelsize=6.5, pad=1.5, width=0.8)
        ax.tick_params(which="major", length=3)
        ax.tick_params(which="minor", length=1.6)
        for sp in ax.spines.values():
            sp.set_linewidth(1.0)
        if k < len(names) - 1:
            ax.tick_params(labelbottom=False)
        else:
            ax.tick_params(axis="x", labelsize=7.4, pad=2)
    fig.text(41 / W, 1 - (top0 - 12) / H, GROUP_TITLES[g], fontsize=7.5,
             ha="left", va="center")
    ymid = top0 + (4 * PITCH + PH) / 2
    fig.text(10 / W, 1 - ymid / H, "DOS (states eV$^{-1}$)", rotation=90,
             fontsize=8.5, ha="center", va="center")

fig.text((LEFT + RIGHT) / 2 / W, 1 - 867 / H, "Energy (eV)", fontsize=8.8,
         ha="center", va="center")

fig.savefig("out.png", dpi=100)
